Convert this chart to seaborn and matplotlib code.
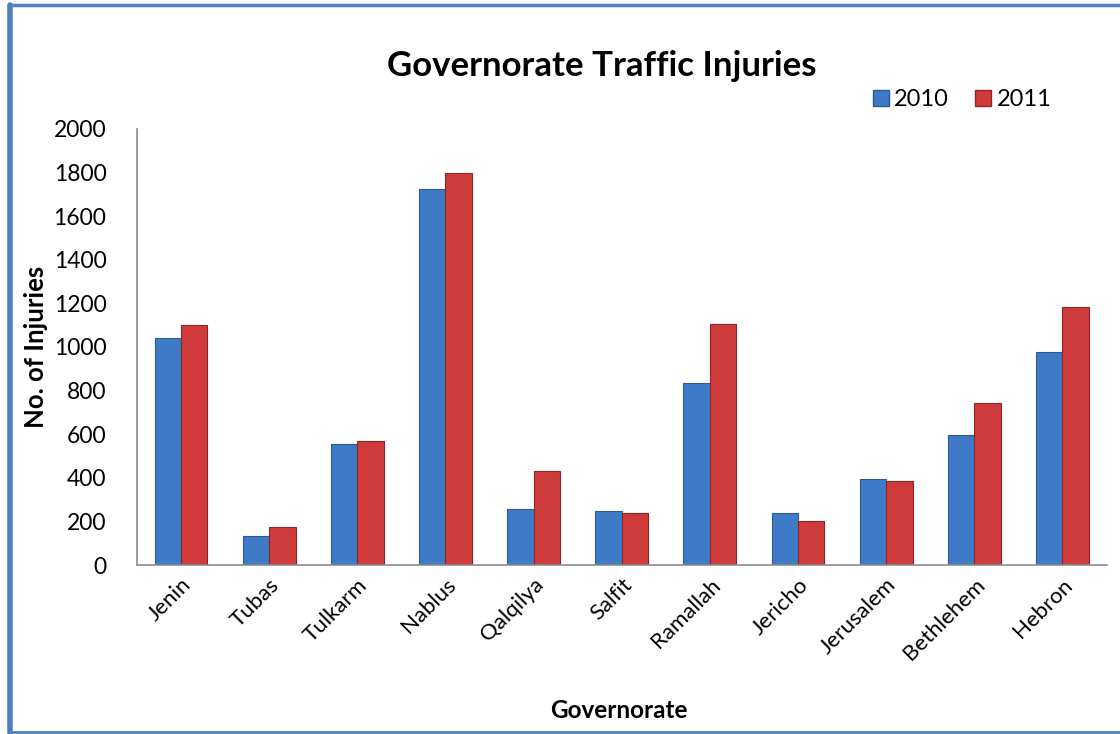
import seaborn as sns
import matplotlib.pyplot as plt
from matplotlib.lines import Line2D
import pandas as pd

# data
governorates = ["Jenin", "Tubas", "Tulkarm", "Nablus", "Qalqilya", "Salfit",
                "Ramallah", "Jericho", "Jerusalem", "Bethlehem", "Hebron"]
injuries_2010 = [1040, 135, 555, 1725, 255, 250, 835, 240, 395, 595, 975]
injuries_2011 = [1100, 175, 570, 1800, 430, 240, 1105, 200, 385, 745, 1185]
years = ["2010", "2011"]

df = pd.DataFrame({
    "governorate": governorates * 2,
    "injuries": injuries_2010 + injuries_2011,
    "year": [years[0]] * len(governorates) + [years[1]] * len(governorates),
})

sns.set_style("white")
plt.rcParams["font.family"] = ["Lato", "DejaVu Sans"]
plt.rcParams["text.color"] = "black"

fig = plt.figure(figsize=(11.2, 7.34), dpi=100)
ax = fig.add_axes([0.1223, 0.2302, 0.8657, 0.5941])

palette = {"2010": "#3E7AC6", "2011": "#CF3B3B"}
sns.barplot(data=df, x="governorate", y="injuries", hue="year", palette=palette,
            width=0.6, gap=0, saturation=1, ax=ax, legend=False)

edge = {"2010": "#2D5A93", "2011": "#8C2626"}
for cont, yr in zip(ax.containers, years):
    for bar in cont:
        bar.set_edgecolor(edge[yr])
        bar.set_linewidth(0.8)

ax.set_ylim(0, 2000)
ax.set_xlim(-0.5, len(governorates) - 0.5)
ax.set_yticks(range(0, 2001, 200))
ax.tick_params(axis="y", labelsize=16.5, labelcolor="black", length=6,
               color="#8c8c8c", direction="out", pad=16)
ax.set_xticks(range(len(governorates)))
ax.set_xticklabels(governorates, rotation=45, ha="right", rotation_mode="anchor", fontsize=16)
ax.tick_params(axis="x", which="major", length=0, pad=7, labelcolor="black")
ax.set_xticks([i - 0.5 for i in range(len(governorates) + 1)], minor=True)
ax.tick_params(axis="x", which="minor", length=7, color="#8c8c8c", direction="out")

for s in ["top", "right"]:
    ax.spines[s].set_visible(False)
for s in ["left", "bottom"]:
    ax.spines[s].set_color("#8c8c8c")
    ax.spines[s].set_linewidth(1.2)

ax.set_ylabel("No. of Injuries", fontsize=18.5, fontweight="bold", labelpad=4, color="black")
ax.set_xlabel("")
fig.text(0.553, 0.022, "Governorate", fontsize=17.5, fontweight="bold", ha="center")
fig.text(0.537, 0.896, "Governorate Traffic Injuries", fontsize=25, fontweight="bold", ha="center")

handles = [Line2D([], [], marker="s", linestyle="", markersize=12,
                  markerfacecolor=palette[y], markeredgecolor=edge[y]) for y in years]
fig.legend(handles, years, loc="center", bbox_to_anchor=(0.858, 0.864), ncol=2,
           frameon=False, fontsize=17, handletextpad=0.1, columnspacing=1.0,
           handlelength=0.9)

# blue frame around the chart area
fig.add_artist(Line2D([0.0085, 0.0085], [0.002, 0.993], color="#4F81BD", lw=4,
                      transform=fig.transFigure))
fig.add_artist(Line2D([0.0085, 1.0], [0.993, 0.993], color="#4F81BD", lw=2.5,
                      transform=fig.transFigure))
fig.add_artist(Line2D([0.0085, 1.0], [0.003, 0.003], color="#4F81BD", lw=2,
                      transform=fig.transFigure))

fig.savefig("out.png", dpi=100)
